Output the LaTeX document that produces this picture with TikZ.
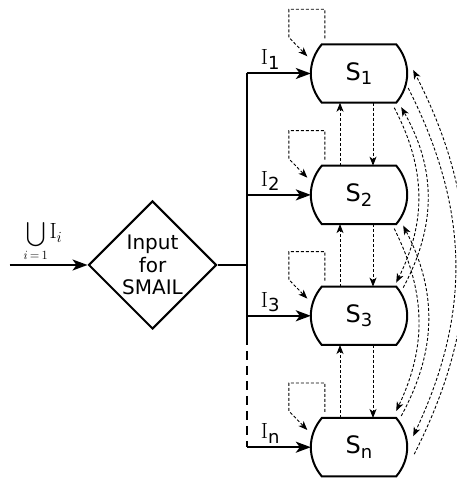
\RequirePackage{fix-cm}
\documentclass[tikz,border=0pt]{standalone}
\usepackage{amsmath}
\usepackage{fontspec}
\setsansfont{DejaVu Sans}
\usetikzlibrary{shapes.geometric, arrows.meta, positioning}
\tikzstyle{decision} = [diamond, aspect=1, draw, line width=2pt, minimum width=128pt, minimum height=128pt, inner sep=0pt, align=center, font=\sffamily\fontsize{20}{22.5}\selectfont]
\tikzstyle{state} = [rectangle, minimum width=96pt, minimum height=58pt, inner sep=0pt, font=\sffamily\fontsize{24}{24}\selectfont]
\tikzstyle{feed} = [line width=2pt, ->, >={Stealth[length=15pt,width=11pt,inset=4pt]}]
\tikzstyle{link} = [line width=0.9pt, dash pattern=on 3pt off 2pt, ->, >={Stealth[length=9pt,width=7pt,inset=2.5pt]}]
\tikzstyle{inlabel} = [above, inner sep=3pt, font=\fontsize{22}{22}\selectfont]
\newcommand{\lowsub}[1]{\raisebox{-4.5pt}{\sffamily\fontsize{18}{18}\selectfont #1}}

\begin{document}
\begin{tikzpicture}
  \useasboundingbox (0,0) rectangle (456pt,478pt);
  \node (inp) [decision] at (152.5pt,213pt) {Input\\for\\SMAIL};
  \node (s1) [state] at (359pt,404.5pt) {S\lowsub{1}};
  \node (s2) [state, below=63pt of s1] {S\lowsub{2}};
  \node (s3) [state, below=62.5pt of s2] {S\lowsub{3}};
  \node (sn) [state, below=73pt of s3] {S\lowsub{n}};
  \coordinate (src) at ([xshift=-78pt]inp.west);
  \coordinate (bus) at ([xshift=29pt]inp.east);

  % input side
  \draw [feed] (src) -- node (lu) [pos=0.43, above, inner sep=3pt] {{\fontsize{18}{18}\selectfont$\displaystyle\bigcup_{i\,=\,1}$}\,{\fontsize{22}{22}\selectfont$\mathrm{I}_i$}} (inp.west);
  \draw [line width=2pt] (inp.east) -- (bus);
  \draw [line width=2pt] (bus |- s1) -- (bus |- s3.south);
  \draw [line width=2pt, dash pattern=on 9pt off 6pt, dash phase=9pt] (bus |- s3.south) -- (bus |- sn);
  \draw [feed] (bus |- s1) -- node (l1) [inlabel, pos=0.37] {I\lowsub{1}} (s1.west);
  \draw [feed] (bus |- s2) -- node (l2) [inlabel, pos=0.37] {I\lowsub{2}} (s2.west);
  \draw [feed] (bus |- s3) -- node (l3) [inlabel, pos=0.37] {I\lowsub{3}} (s3.west);
  \draw [feed] (bus |- sn) -- node (ln) [inlabel, pos=0.37] {I\lowsub{n}} (sn.west);

  % state outlines and self loops
  \foreach \s in {s1,s2,s3,sn}{
    \draw [line width=2pt] ([xshift=11pt]\s.north west) -- ([xshift=-11pt]\s.north east)
      to[bend left=40] ([xshift=-11pt]\s.south east) -- ([xshift=11pt]\s.south west)
      to[bend left=40] ([xshift=11pt]\s.north west) -- cycle;
    \draw [link] ([xshift=14pt,yshift=6pt]\s.north west) -- ++(0,29pt)
      -| ([xshift=-22pt,yshift=7pt]\s.north west) -- ([xshift=-3.5pt,yshift=-12pt]\s.north west);
  }

  % neighbours
  \foreach \a/\b in {s1/s2, s2/s3, s3/sn}{
    \draw [link] ([xshift=14pt]\a.south) -- ([xshift=14pt]\b.north);
    \draw [link] ([xshift=-19pt]\b.north) -- ([xshift=-19pt]\a.south);
  }

  % S1 <-> S3
  \draw [link] ([xshift=-13pt,yshift=-5pt]s1.south east) to[bend left=27] ([xshift=-11pt,yshift=4pt]s3.north east);
  \draw [link] ([xshift=-4pt,yshift=-1pt]s3.north east) to[bend right=29] ([xshift=-6pt,yshift=-4.5pt]s1.south east);
  % S2 <-> Sn
  \draw [link] ([xshift=-13pt,yshift=-4.5pt]s2.south east) to[bend left=26] ([xshift=-11pt,yshift=7pt]sn.north east);
  \draw [link] ([xshift=-6pt,yshift=2pt]sn.north east) to[bend right=28] ([xshift=-4pt,yshift=-1.5pt]s2.south east);
  % S1 <-> Sn
  \draw [link] ([xshift=1pt,yshift=-14.5pt]s1.east) to[bend left=26] ([xshift=6pt,yshift=11pt]sn.east);
  \draw [link] ([xshift=7pt,yshift=-7pt]sn.east) to[bend right=27] ([xshift=6pt,yshift=3.5pt]s1.east);
\end{tikzpicture}
\end{document}
